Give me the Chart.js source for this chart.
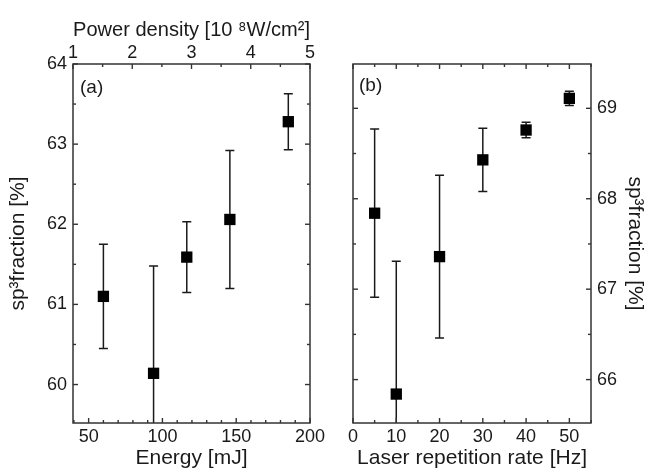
<!DOCTYPE html>
<html>
<head>
<meta charset="utf-8">
<script src="https://cdn.jsdelivr.net/npm/chart.js@4.4.1/dist/chart.umd.min.js"></script>
<style>
  body { margin: 0; background: #fff; }
  #wrap { position: relative; width: 649px; height: 475px; overflow: hidden; }
  canvas { position: absolute; top: 0; }
  #chartA { left: 0; }
  #chartB { left: 330px; }
  .tag { position: absolute; font: 19px "Liberation Sans", Arial, sans-serif; color: #1a1a1a; }
</style>
</head>
<body>
<div id="wrap">
  <canvas id="chartA" width="330" height="475"></canvas>
  <canvas id="chartB" width="319" height="475"></canvas>
  <div class="tag" style="left:80px; top:76px;">(a)</div>
  <div class="tag" style="left:359px; top:74px;">(b)</div>
</div>
<script>
// panel (a): sp3 fraction vs laser energy
const energyA = [60, 94, 116.5, 145.7, 185.3];
const fracA = [61.1, 60.14, 61.59, 62.06, 63.28];
const errA = [0.65, 1.34, 0.44, 0.86, 0.35];
const energyTicks = [50, 100, 150, 200];
const powerTicks = [1, 2, 3, 4, 5];
const fracTicksA = [60, 61, 62, 63, 64];

// panel (b): sp3 fraction vs repetition rate
const rateB = [5, 10, 20, 30, 40, 50];
const fracB = [67.84, 65.84, 67.36, 68.43, 68.76, 69.11];
const errB = [0.93, 1.47, 0.9, 0.35, 0.085, 0.08];
const rateTicks = [0, 10, 20, 30, 40, 50];
const fracTicksB = [66, 67, 68, 69];

const FONT = '"Liberation Sans", Arial, sans-serif';
const INK = '#1a1a1a';

// minor + major tick list, majors flagged with "big"
function stepTicks(min, max, step, majors) {
  var out = [];
  for (var v = Math.ceil(min / step - 1e-9) * step; v <= max + 1e-9; v += step) {
    var r = Math.round(v * 100) / 100;
    out.push({ value: r, big: majors.includes(r) });
  }
  return out;
}

function axis(opts) {
  var a = {
    type: 'linear',
    position: opts.position,
    min: opts.min,
    max: opts.max,
    grid: { display: false, drawTicks: false },
    border: { display: false },
    afterBuildTicks: function (s) { s.ticks = stepTicks(s.min, s.max, opts.step, opts.majors); },
    afterFit: function (s) {
      if (opts.height) s.height = opts.height;
      if (opts.width) s.width = opts.width;
    },
    ticks: {
      autoSkip: false,
      maxRotation: 0,
      padding: opts.pad,
      color: INK,
      font: { family: FONT, size: 18 },
      callback: function (v) { return opts.majors.includes(v) ? String(v) : ''; }
    },
    title: {
      display: !!opts.title,
      text: opts.title,
      color: INK,
      font: { family: FONT, size: 21 },
      padding: opts.titlePad || 0
    }
  };
  return a;
}

// inward tick marks and the box frame
const boxTicks = {
  id: 'boxTicks',
  afterDatasetsDraw(chart, args, opts) {
    var ctx = chart.ctx, a = chart.chartArea;
    ctx.save();
    ctx.strokeStyle = '#333';
    ctx.lineWidth = 1.4;
    opts.edges.forEach(function (e) {
      var s = chart.scales[e[0]];
      s.ticks.forEach(function (t) {
        var p = s.getPixelForValue(t.value);
        var len = t.big ? 5 : 3;
        e[1].forEach(function (side) {
          ctx.beginPath();
          if (side === 'bottom') { ctx.moveTo(p, a.bottom); ctx.lineTo(p, a.bottom - len); }
          if (side === 'top') { ctx.moveTo(p, a.top); ctx.lineTo(p, a.top + len); }
          if (side === 'left') { ctx.moveTo(a.left, p); ctx.lineTo(a.left + len, p); }
          if (side === 'right') { ctx.moveTo(a.right, p); ctx.lineTo(a.right - len, p); }
          ctx.stroke();
        });
      });
    });
    ctx.lineWidth = 1.5;
    ctx.strokeRect(a.left, a.top, a.width, a.height);
    ctx.restore();
  }
};

// vertical error bars with caps, read from dataset.errors
const errorBars = {
  id: 'errorBars',
  beforeDatasetsDraw(chart) {
    var ctx = chart.ctx, a = chart.chartArea;
    ctx.save();
    ctx.beginPath();
    ctx.rect(a.left, a.top, a.width, a.height);
    ctx.clip();
    ctx.strokeStyle = '#1a1a1a';
    ctx.lineWidth = 1.5;
    chart.data.datasets.forEach(function (ds) {
      if (!ds.errors) return;
      var xs = chart.scales[ds.xAxisID || 'x'], ys = chart.scales[ds.yAxisID || 'y'];
      ds.data.forEach(function (pt, i) {
        var x = xs.getPixelForValue(pt.x);
        var y1 = ys.getPixelForValue(pt.y + ds.errors[i]);
        var y2 = ys.getPixelForValue(pt.y - ds.errors[i]);
        ctx.beginPath();
        ctx.moveTo(x, y1); ctx.lineTo(x, y2);
        ctx.moveTo(x - 4.5, y1); ctx.lineTo(x + 4.5, y1);
        ctx.moveTo(x - 4.5, y2); ctx.lineTo(x + 4.5, y2);
        ctx.stroke();
      });
    });
    ctx.restore();
  }
};

function points(xs, ys) {
  return xs.map(function (x, i) { return { x: x, y: ys[i] }; });
}

function dataset(xs, ys, errs) {
  return {
    data: points(xs, ys),
    errors: errs,
    pointStyle: 'rect',
    pointRadius: 8,
    backgroundColor: '#000',
    borderColor: '#000',
    borderWidth: 0
  };
}

var common = {
  responsive: false,
  animation: false,
  events: [],
  plugins: { legend: { display: false }, tooltip: { enabled: false } }
};

new Chart(document.getElementById('chartA'), {
  type: 'scatter',
  data: { datasets: [dataset(energyA, fracA, errA)] },
  plugins: [errorBars, boxTicks],
  options: Object.assign({}, common, {
    layout: { padding: { left: 0, right: 20, top: 0, bottom: 0 } },
    plugins: Object.assign({}, common.plugins, {
      boxTicks: { edges: [['x', ['bottom']], ['x2', ['top']], ['y', ['left', 'right']]] }
    }),
    scales: {
      x: axis({ position: 'bottom', min: 39.4, max: 200, step: 10, majors: energyTicks,
        title: 'Energy [mJ]', height: 52, pad: 3, titlePad: { top: 0, bottom: 4 } }),
      x2: axis({ position: 'top', min: 1, max: 5, step: 0.5, majors: powerTicks,
        title: 'Power density [10 \u2078W/cm\u00b2]', height: 64, pad: 0, titlePad: { top: 18, bottom: 0 } }),
      y: axis({ position: 'left', min: 59.52, max: 64, step: 0.5, majors: fracTicksA,
        title: 'sp\u00b3fraction [%]', width: 73, pad: 6, titlePad: { top: 6, bottom: 0 } })
    }
  })
});

new Chart(document.getElementById('chartB'), {
  type: 'scatter',
  data: { datasets: [dataset(rateB, fracB, errB)] },
  plugins: [errorBars, boxTicks],
  options: Object.assign({}, common, {
    layout: { padding: { left: 23, right: 0, top: 64, bottom: 0 } },
    plugins: Object.assign({}, common.plugins, {
      boxTicks: { edges: [['x', ['bottom', 'top']], ['y', ['right', 'left']]] }
    }),
    scales: {
      x: axis({ position: 'bottom', min: 0, max: 55, step: 5, majors: rateTicks,
        title: 'Laser repetition rate [Hz]', height: 52, pad: 3, titlePad: { top: 0, bottom: 4 } }),
      y: axis({ position: 'right', min: 65.52, max: 69.49, step: 0.5, majors: fracTicksB,
        title: 'sp\u00b3fraction [%]', width: 58, pad: 6, titlePad: { top: 2, bottom: 0 } })
    }
  })
});
</script>
</body>
</html>
